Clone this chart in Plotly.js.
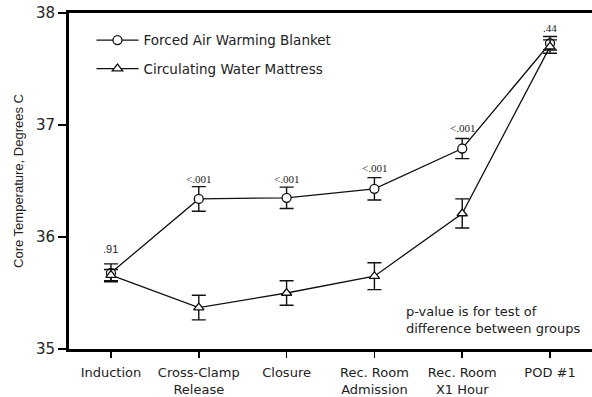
<!DOCTYPE html>
<html>
<head>
<meta charset="utf-8">
<script src="https://cdn.plot.ly/plotly-3.0.1.min.js"></script>
<style>html,body{margin:0;padding:0;background:#fff;}#chart{width:592px;height:397px;}</style>
</head>
<body>
<div id="chart"></div>
<script>
const categories = ["Induction", "Cross-Clamp<br>Release", "Closure", "Rec. Room<br>Admission", "Rec. Room<br>X1 Hour", "POD #1"];
const fawbMean = [35.68, 36.34, 36.35, 36.43, 36.79, 37.73];
const fawbErr = [0.08, 0.11, 0.095, 0.10, 0.09, 0.06];
const cwmMean = [35.66, 35.37, 35.50, 35.65, 36.21, 37.70];
const cwmErr = [0.05, 0.11, 0.11, 0.12, 0.13, 0.06];
const pValues = [".91", "<.001", "<.001", "<.001", "<.001", ".44"];
const pValueY = [35.89, 36.52, 36.52, 36.62, 36.97, 37.87];
const seriesNames = ["Forced Air Warming Blanket", "Circulating Water Mattress"];

const sans = "Liberation Sans, Arial, sans-serif";
const wide = "DejaVu Sans, Verdana, sans-serif";
const serif = "Liberation Serif, Times New Roman, serif";

const traces = [
  {
    x: categories, y: fawbMean, name: seriesNames[0], type: "scatter", mode: "lines+markers",
    legendgroup: "a",
    line: {color: "#111", width: 1.3},
    marker: {symbol: "circle", size: 9, color: "#fff", line: {color: "#111", width: 1.3}},
    error_y: {type: "data", array: fawbErr, visible: true, color: "#111", thickness: 1.4, width: 7}
  },
  {
    x: categories, y: cwmMean, name: seriesNames[1], type: "scatter", mode: "lines+markers",
    legendgroup: "b",
    line: {color: "#111", width: 1.3},
    marker: {symbol: "triangle-up", size: 9, color: "#fff", line: {color: "#111", width: 1.3}},
    error_y: {type: "data", array: cwmErr, visible: true, color: "#111", thickness: 1.4, width: 7}
  }
];

const annotations = categories.map((c, i) => ({
  x: c, y: pValueY[i], xref: "x", yref: "y", text: pValues[i], showarrow: false,
  font: {family: i === 0 ? sans : serif, size: 11, color: "#222"}
}));
annotations.push({
  xref: "paper", yref: "paper", x: 0.641, y: 0.032, xanchor: "left", yanchor: "bottom", align: "left",
  text: "p-value is for test of<br>difference between groups", showarrow: false,
  font: {family: wide, size: 13, color: "#222"}
});

const layout = {
  width: 592, height: 397,
  margin: {l: 69, r: 0, t: 13, b: 48},
  paper_bgcolor: "#fff", plot_bgcolor: "#fff",
  font: {family: sans, size: 13, color: "#222"},
  showlegend: true,
  legend: {x: 0.043, y: 0.965, xanchor: "left", yanchor: "top", bgcolor: "rgba(0,0,0,0)",
           itemwidth: 42,
           traceorder: "grouped", tracegroupgap: 8, font: {family: wide, size: 13.5, color: "#222"}},
  xaxis: {
    type: "category", range: [-0.478, 5.478], showgrid: false, zeroline: false,
    showline: true, linecolor: "#000", linewidth: 3, mirror: true,
    ticks: "outside", ticklen: 6, tickwidth: 1.5, tickcolor: "#000", ticklabelstandoff: 3,
    tickfont: {family: wide, size: 13, color: "#222"}
  },
  yaxis: {
    range: [35, 38], tickvals: [35, 36, 37, 38], showgrid: false, zeroline: false,
    showline: true, linecolor: "#000", linewidth: 3,
    ticks: "outside", ticklen: 8, tickwidth: 1.5, tickcolor: "#000",
    tickfont: {family: wide, size: 15, color: "#222"},
    title: {text: "Core Temperature, Degrees C", font: {family: sans, size: 13, color: "#222"}, standoff: 10}
  },
  annotations: annotations
};

Plotly.newPlot("chart", traces, layout, {displayModeBar: false, staticPlot: true});
</script>
</body>
</html>
